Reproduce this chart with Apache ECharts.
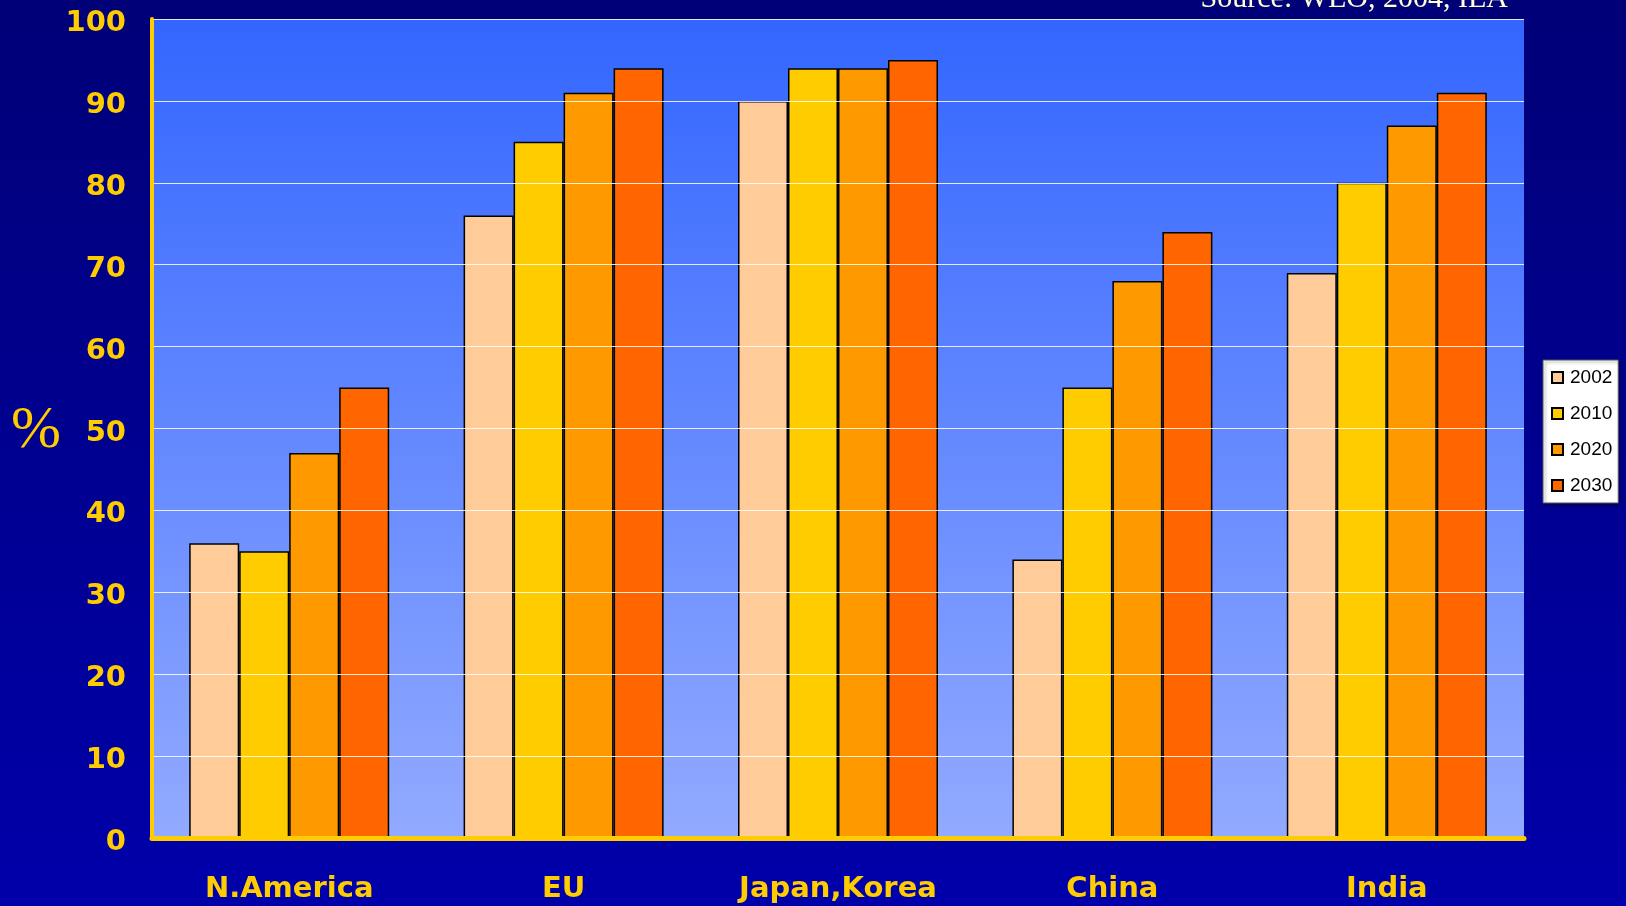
<!DOCTYPE html>
<html>
<head>
<meta charset="utf-8">
<script src="https://cdn.jsdelivr.net/npm/echarts@6/dist/echarts.min.js"></script>
<style>
    html, body { margin: 0; padding: 0; }
    #chart { width: 1626px; height: 906px; }
</style>
</head>
<body>
<div id="chart"></div>
<script>
    // data
    const categories = ['N.America', 'EU', 'Japan,Korea', 'China', 'India']
    const years = ['2002', '2010', '2020', '2030']
    const values2002 = [36, 76, 90, 34, 69]
    const values2010 = [35, 85, 94, 55, 80]
    const values2020 = [47, 91, 94, 68, 87]
    const values2030 = [55, 94, 95, 74, 91]
    const yearColors = ['#FFCC99', '#FFCC00', '#FF9900', '#FF6600']

    const yellow = '#FFCC00'
    const allValues = [values2002, values2010, values2020, values2030]

    const chart = echarts.init(document.getElementById('chart'))

    const series = years.map((y, i) => ({
        name: y,
        type: 'bar',
        data: allValues[i],
        barWidth: 50,
        barGap: '0%',
        itemStyle: {
            color: yearColors[i],
            borderColor: '#000',
            borderWidth: 1.5
        }
    }))

    const options = {
        animation: false,
        backgroundColor: new echarts.graphic.LinearGradient(0, 0, 0, 1, [
            { offset: 0, color: '#000077' },
            { offset: 1, color: '#0000AA' }
        ]),
        grid: {
            left: 152,
            right: 102,
            top: 19,
            bottom: 68,
            show: true,
            borderWidth: 0,
            backgroundColor: new echarts.graphic.LinearGradient(0, 0, 0, 1, [
                { offset: 0, color: '#3366FF' },
                { offset: 1, color: '#92AAFF' }
            ])
        },
        legend: {
            orient: 'vertical',
            left: 1543,
            top: 360,
            padding: [8, 6, 8, 8],
            itemWidth: 11,
            itemHeight: 11,
            itemGap: 17,
            icon: 'rect',
            backgroundColor: '#fff',
            borderColor: '#555',
            borderWidth: 1,
            shadowColor: 'rgba(0,0,0,0.4)',
            shadowBlur: 3,
            shadowOffsetX: 2,
            shadowOffsetY: 2,
            textStyle: {
                color: '#000',
                fontFamily: 'Liberation Sans',
                fontSize: 19,
                padding: [0, 0, 0, 2]
            },
            data: years
        },
        xAxis: {
            type: 'category',
            data: categories,
            z: 5,
            axisLine: { lineStyle: { color: yellow, width: 5 } },
            axisTick: { show: false },
            axisLabel: {
                color: yellow,
                fontFamily: 'DejaVu Sans',
                fontWeight: 'bold',
                fontSize: 29,
                margin: 37
            }
        },
        yAxis: {
            type: 'value',
            min: 0,
            max: 100,
            interval: 10,
            z: 5,
            axisLine: { show: true, lineStyle: { color: yellow, width: 4, cap: 'round' } },
            axisTick: { show: false },
            axisLabel: {
                color: yellow,
                fontFamily: 'DejaVu Sans',
                fontWeight: 'bold',
                fontSize: 29,
                margin: 26,
                verticalAlign: 'top',
                padding: [-10, 0, 0, 0]
            },
            splitLine: { lineStyle: { color: 'rgba(255,255,255,0.85)', width: 1 } }
        },
        graphic: [
            {
                type: 'text',
                left: 11,
                top: 401,
                style: {
                    text: '%',
                    fill: yellow,
                    font: '60px "Liberation Serif"'
                }
            },
            {
                type: 'text',
                x: 1508,
                y: -1,
                style: {
                    text: 'Source: WEO, 2004, IEA',
                    fill: '#FFFFD8',
                    font: '30px "Liberation Serif"',
                    align: 'right',
                    verticalAlign: 'middle'
                }
            }
        ],
        series: series
    }
    chart.setOption(options)
</script>
</body>
</html>
